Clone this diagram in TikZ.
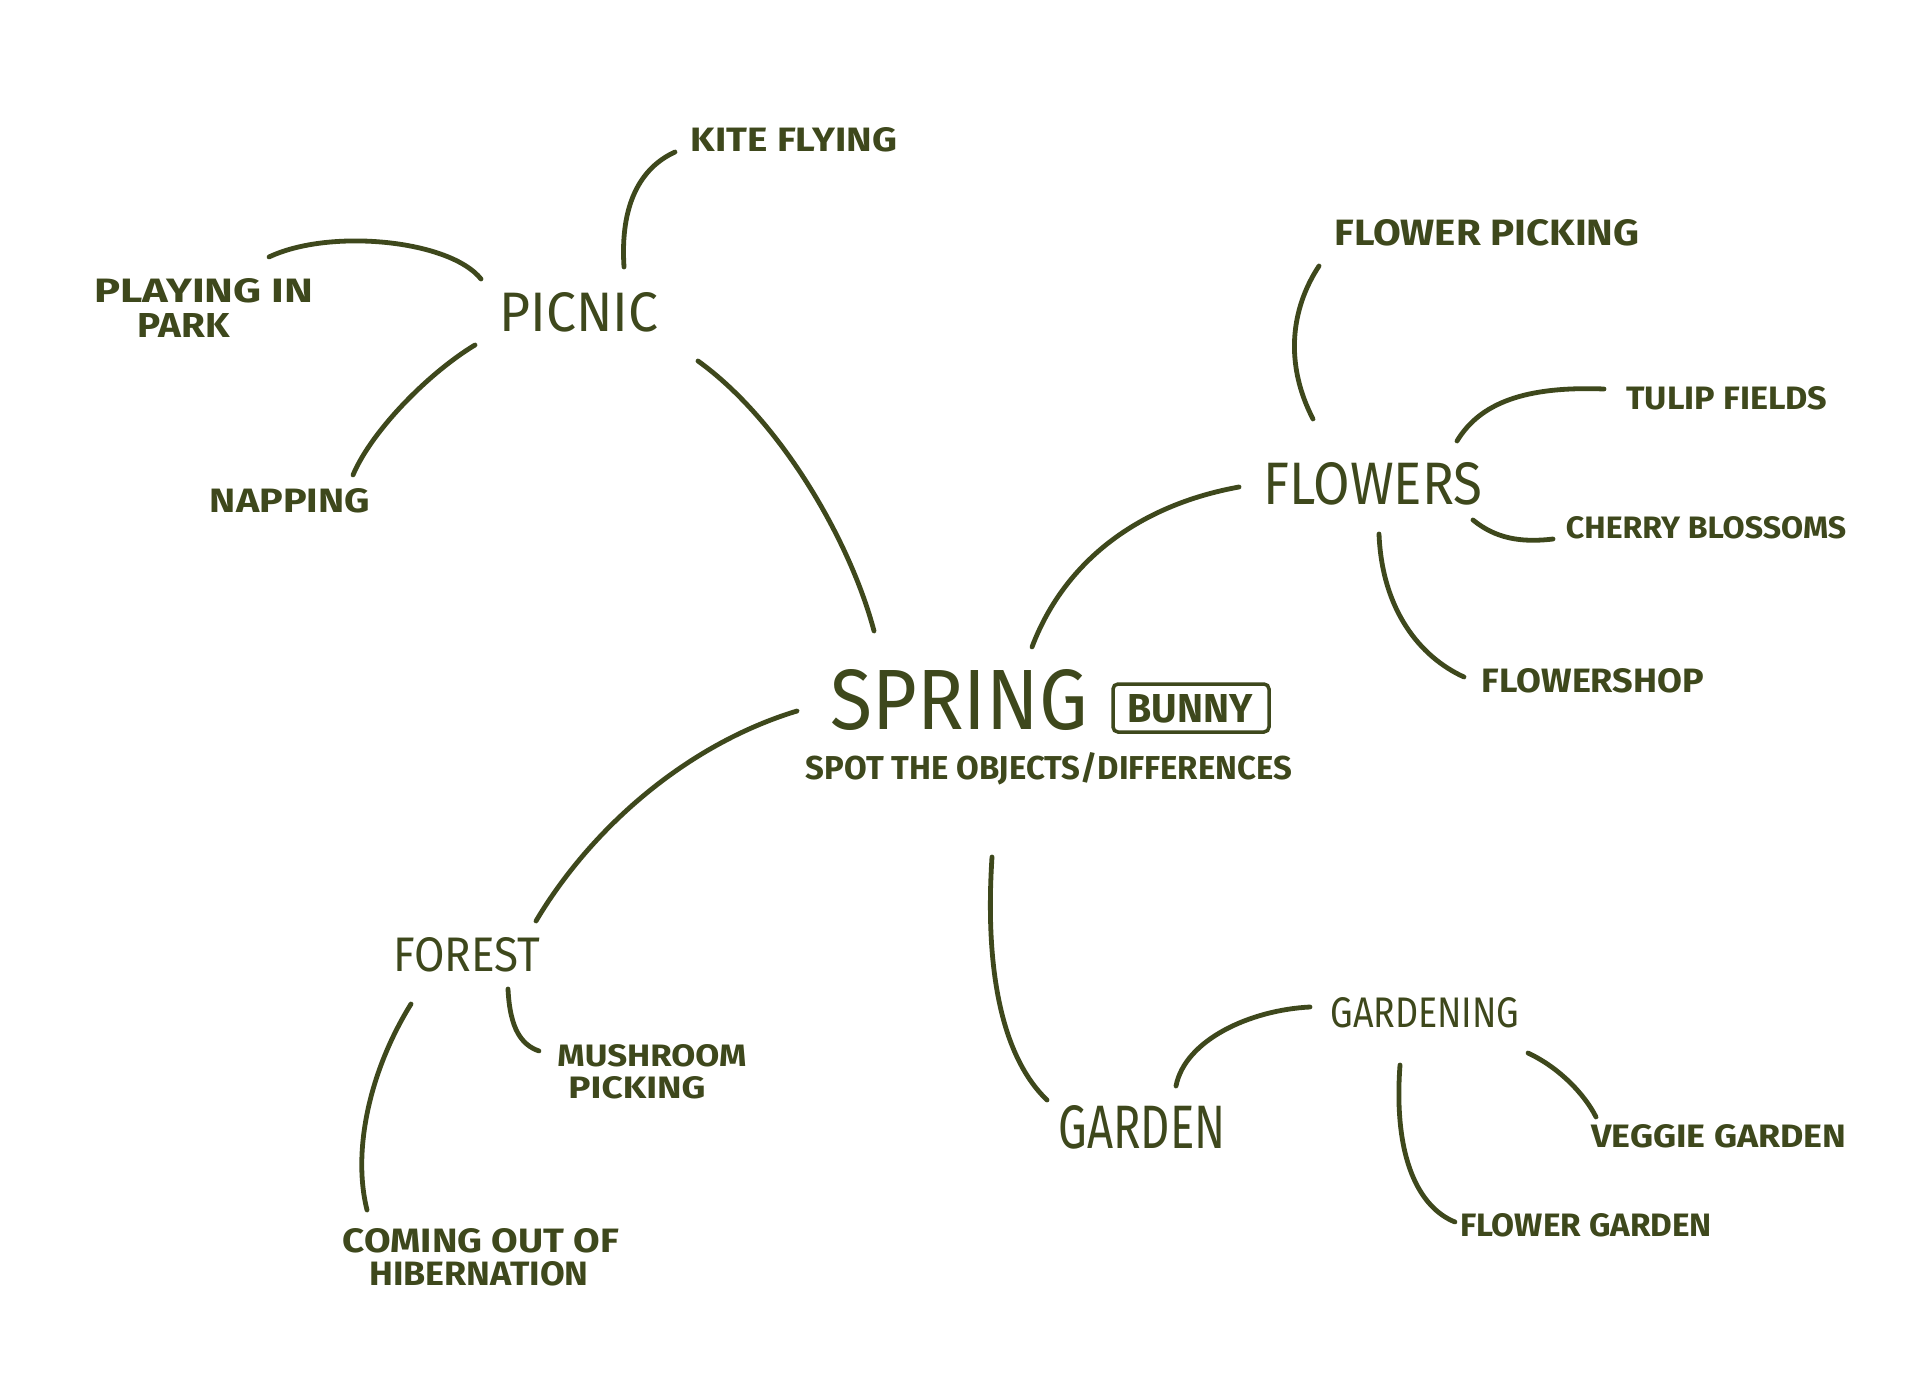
\documentclass[tikz,border=0pt]{standalone}
\usepackage{fontspec}
\setmainfont{Fira Sans}
\usepackage{graphicx}
\definecolor{olive}{RGB}{62,72,28}
\newcommand{\mmlab}[3]{\resizebox{#1pt}{#2pt}{#3}}
\tikzset{
  lbl/.style={inner sep=0pt, text=olive, font=\bfseries},
  mid/.style={inner sep=0pt, text=olive, font=\mdseries},
  link/.style={draw=olive, line width=4.8pt, line cap=round}
}
\begin{document}
\begin{tikzpicture}[x=1pt,y=-1pt]
\useasboundingbox[fill=white] (0,0) rectangle (1920,1396);
% main
\node[mid] (spring) at (959,700) {\mmlab{257}{60}{SPRING}};
\node[lbl] (bunny) at (1190,709) {\mmlab{125}{28}{BUNNY}};
\draw[olive, line width=3.5pt, rounded corners=5pt] (1113,684) rectangle (1269,732);
\node[lbl] (spot) at (1049,769) {\mmlab{486}{27}{SPOT THE OBJECTS/DIFFERENCES}};
% picnic
\node[mid] (picnic) at (579,312) {\mmlab{159}{39}{PICNIC}};
\node[lbl] (kite) at (794,140) {\mmlab{206}{24}{KITE FLYING}};
\node[lbl] (playing) at (204,291) {\mmlab{219}{24}{PLAYING IN}};
\node[lbl] (park) at (184,326) {\mmlab{92}{24}{PARK}};
\node[lbl] (napping) at (290,501) {\mmlab{160}{24}{NAPPING}};
% flowers
\node[mid] (flowers) at (1373,484) {\mmlab{219}{42}{FLOWERS}};
\node[lbl] (fpick) at (1487,233) {\mmlab{305}{26}{FLOWER PICKING}};
\node[lbl] (tulip) at (1727,398) {\mmlab{201}{23}{TULIP FIELDS}};
\node[lbl] (cherry) at (1706,528) {\mmlab{280}{22}{CHERRY BLOSSOMS}};
\node[lbl] (shop) at (1593,681) {\mmlab{222}{24}{FLOWERSHOP}};
% forest
\node[mid] (forest) at (467,955) {\mmlab{147}{34}{FOREST}};
\node[lbl] (mush) at (652,1056) {\mmlab{189}{22}{MUSHROOM}};
\node[lbl] (mush2) at (637,1088) {\mmlab{137}{22}{PICKING}};
\node[lbl] (coming) at (481,1241) {\mmlab{276}{24}{COMING OUT OF}};
\node[lbl] (hib) at (479,1274) {\mmlab{219}{24}{HIBERNATION}};
% garden
\node[mid] (garden) at (1142,1127) {\mmlab{167}{43}{GARDEN}};
\node[mid] (gardening) at (1425,1013) {\mmlab{189}{30}{GARDENING}};
\node[lbl] (veggie) at (1719,1136) {\mmlab{255}{23}{VEGGIE GARDEN}};
\node[lbl] (fgarden) at (1586,1225) {\mmlab{252}{23}{FLOWER GARDEN}};
% connector end points
\coordinate (a1) at (624,267); \coordinate (a2) at (675,152);
\coordinate (b1) at (481,279); \coordinate (b2) at (269,257);
\coordinate (c1) at (475,345); \coordinate (c2) at (353,475);
\coordinate (d1) at (698,361); \coordinate (d2) at (874,631);
\coordinate (e1) at (1032,647); \coordinate (e2) at (1239,487);
\coordinate (f1) at (1313,419); \coordinate (f2) at (1319,266);
\coordinate (g1) at (1457,441); \coordinate (g2) at (1604,389);
\coordinate (h1) at (1473,520); \coordinate (h2) at (1553,539);
\coordinate (i1) at (1379,534); \coordinate (i2) at (1464,677);
\coordinate (j1) at (797,711); \coordinate (j2) at (536,921);
\coordinate (k1) at (508,989); \coordinate (k2) at (539,1051);
\coordinate (l1) at (411,1004); \coordinate (l2) at (367,1210);
\coordinate (m1) at (992,857); \coordinate (m2) at (1047,1100);
\coordinate (n1) at (1176,1086); \coordinate (n2) at (1310,1007);
\coordinate (o1) at (1528,1053); \coordinate (o2) at (1596,1117);
\coordinate (p1) at (1400,1065); \coordinate (p2) at (1455,1222);
% connectors
\draw[link] (a1) .. controls (620,205) and (640,168) .. (a2);
\draw[link] (b1) .. controls (450,240) and (330,228) .. (b2);
\draw[link] (c1) .. controls (430,372) and (372,430) .. (c2);
\draw[link] (d1) .. controls (780,420) and (850,540) .. (d2);
\draw[link] (e1) .. controls (1065,560) and (1140,505) .. (e2);
\draw[link] (f1) .. controls (1285,365) and (1290,310) .. (f2);
\draw[link] (g1) .. controls (1480,403) and (1525,386) .. (g2);
\draw[link] (h1) .. controls (1495,538) and (1520,543) .. (h2);
\draw[link] (i1) .. controls (1382,610) and (1420,657) .. (i2);
\draw[link] (j1) .. controls (685,745) and (590,830) .. (j2);
\draw[link] (k1) .. controls (510,1030) and (522,1045) .. (k2);
\draw[link] (l1) .. controls (370,1070) and (352,1150) .. (l2);
\draw[link] (m1) .. controls (985,965) and (1000,1055) .. (m2);
\draw[link] (n1) .. controls (1185,1040) and (1250,1010) .. (n2);
\draw[link] (o1) .. controls (1560,1068) and (1585,1095) .. (o2);
\draw[link] (p1) .. controls (1393,1160) and (1420,1208) .. (p2);
\end{tikzpicture}
\end{document}
